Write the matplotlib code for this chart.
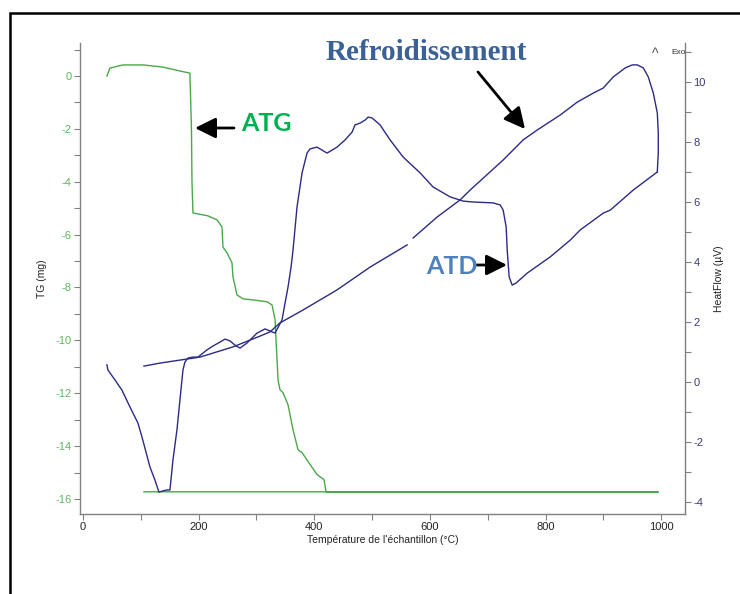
import numpy as np
import matplotlib
matplotlib.use("Agg")
import matplotlib.pyplot as plt
from matplotlib.patches import Rectangle, FancyArrowPatch
from matplotlib.ticker import MultipleLocator

# ---- data ----
tg_temp = [41.5, 46.7, 69, 104, 138, 168, 185, 187.7, 188.6, 190.3, 216.3, 231.8, 240.5,
           242.2, 249.1, 257.8, 259.5, 266.4, 276.8, 294.1, 318.3, 327, 332.2, 333.9,
           337.4, 340.8, 346, 354.7, 363.3, 372, 378.9, 404.8, 416.9, 420.4, 994.8, 105.5]
tg_mass = [0.0, 0.30, 0.42, 0.42, 0.34, 0.19, 0.11, -2.0, -4.0, -5.18, -5.29, -5.44, -5.71,
           -6.47, -6.69, -7.07, -7.60, -8.28, -8.43, -8.47, -8.54, -8.66, -9.22, -9.98,
           -11.49, -11.87, -11.98, -12.44, -13.38, -14.14, -14.25, -15.08, -15.27, -15.73,
           -15.73, -15.73]

heat_temp = [41.5, 43.3, 55.4, 67.5, 81.3, 95.2, 102.1, 115.9, 124.6, 131.5, 138.4, 145.3,
             150.5, 155.7, 162.6, 167.8, 173.0, 176.5, 181.7, 190.3, 199, 214.5, 224.9, 237,
             245.7, 254.3, 263, 271.6, 283.7, 301, 314.9, 323.5, 332.2, 344.3, 349.5, 354.7,
             359.9, 363.3, 370.2, 378.9, 387.5, 392.7, 404.8, 413.5, 422.1, 439.4, 453.3,
             465.4, 470.6, 479.2, 487.9, 493.1, 500, 513.8, 531.1, 553.6, 583, 605.5, 635,
             657.4, 674.7, 709.3, 721.5, 726.6, 731.8, 733.6, 737, 742.2, 749, 768.2, 808,
             842.6, 859.9, 899.7, 911.8, 951.6, 993.1]
heat_flow = [0.57, 0.40, 0.07, -0.27, -0.83, -1.37, -1.83, -2.83, -3.27, -3.67, -3.63, -3.60,
             -3.60, -2.60, -1.60, -0.60, 0.40, 0.67, 0.80, 0.83, 0.83, 1.07, 1.20, 1.33,
             1.43, 1.37, 1.23, 1.13, 1.30, 1.63, 1.77, 1.70, 1.63, 2.07, 2.63, 3.17,
             3.83, 4.40, 5.83, 6.97, 7.63, 7.77, 7.83, 7.73, 7.63, 7.83, 8.07,
             8.33, 8.57, 8.63, 8.73, 8.83, 8.80, 8.57, 8.07, 7.50, 6.97, 6.50, 6.17,
             6.03, 6.0, 5.97, 5.90, 5.73, 5.17, 4.40, 3.50, 3.23, 3.30, 3.63, 4.17,
             4.73, 5.07, 5.63, 5.73, 6.40, 7.0]

cool_temp = [993.1, 994.8, 994.8, 993.1, 986.2, 977.5, 968.9, 958.5, 949.8, 937.7, 917, 899.7,
             882.4, 854.7, 825.3, 785.5, 761.2, 726.6, 669.6, 652.2, 612.5, 570.9, np.nan,
             560.6, 496.5, 439.4, 380.6, 340.8, 323.5, 306.2, 259.5, 202.4, 167.8, 133.2, 105.5]
cool_flow = [7.0, 7.63, 8.30, 8.97, 9.63, 10.17, 10.47, 10.57, 10.57, 10.47, 10.17, 9.80,
             9.63, 9.33, 8.90, 8.40, 8.07, 7.40, 6.40, 6.07, 5.50, 4.80, np.nan,
             4.57, 3.83, 3.07, 2.40, 1.97, 1.67, 1.53, 1.17, 0.83, 0.73, 0.63, 0.53]

x_ticks = [0, 200, 400, 600, 800, 1000]
tg_ticks = [0, -2, -4, -6, -8, -10, -12, -14, -16]
hf_ticks = [-4, -2, 0, 2, 4, 6, 8, 10]

# ---- style ----
W, H = 740, 594
GREEN = "#4aa84a"
GREEN_LBL = "#5cb85c"
NAVY = "#2b2b86"
NAVY_LBL = "#3b3b7a"
GRAY = "#808080"
plt.rcParams["font.family"] = ["Liberation Sans", "DejaVu Sans"]
plt.rcParams["axes.unicode_minus"] = False

fig = plt.figure(figsize=(W / 100, H / 100), dpi=100)
fig.patch.set_facecolor("white")

L, R, B, T = 80, 685, 514, 43
ax1 = fig.add_axes([L / W, 1 - B / H, (R - L) / W, (B - T) / H])
ax2 = ax1.twinx()

ax1.plot(tg_temp, tg_mass, color=GREEN, lw=1.0, zorder=2)
ax2.plot(heat_temp, heat_flow, color=NAVY, lw=1.0)
ax2.plot(cool_temp, cool_flow, color=NAVY, lw=1.0)

ax1.set_xlim(-5, 1041)
ax1.set_ylim(-16.57, 1.25)
ax2.set_ylim(-4.4, 11.3)

ax1.set_xticks(x_ticks)
ax1.xaxis.set_minor_locator(MultipleLocator(100))
ax1.set_yticks(tg_ticks)
ax1.yaxis.set_minor_locator(MultipleLocator(1))
ax2.set_yticks(hf_ticks)
ax2.yaxis.set_minor_locator(MultipleLocator(1))

for ax in (ax1, ax2):
    ax.spines["top"].set_visible(False)
    for s in ax.spines.values():
        s.set_color(GRAY)
        s.set_linewidth(1.0)
ax1.spines["right"].set_visible(False)
ax2.spines["left"].set_visible(False)
ax2.spines["bottom"].set_visible(False)

ax1.tick_params(axis="x", which="both", direction="out", length=4, width=0.8,
                color=GRAY, labelsize=8, labelcolor="#222222", pad=2)
ax1.tick_params(axis="y", which="both", direction="out", length=4, width=0.8,
                color=GRAY, labelsize=8, labelcolor=GREEN_LBL, pad=2)
ax2.tick_params(axis="y", which="both", direction="out", length=4, width=0.8,
                color=GRAY, labelsize=8, labelcolor=NAVY_LBL, pad=2)

ax1.set_xlabel("Température de l'échantillon (°C)", fontsize=7.5, color="#222222")
ax1.set_ylabel("TG (mg)", fontsize=7.5, color="#222222")
ax2.set_ylabel("HeatFlow (µV)", fontsize=7.5, color="#222222")
ax1.xaxis.set_label_coords(0.5, -0.045)
ax1.yaxis.set_label_coords(-0.055, 0.5)
ax2.yaxis.set_label_coords(1.048, 0.5)

def fp(px, py):
    return (px / W, 1 - py / H)

# Exo marker
fig.text(*fp(655, 54), "^", fontsize=10, color="#555555", ha="center", va="center")
fig.text(*fp(671, 52), "Exo", fontsize=6, color="#333333", ha="left", va="center")

# annotations
fig.text(*fp(426, 52), "Refroidissement", fontsize=21, fontweight="bold",
         family=["Liberation Serif", "DejaVu Serif"], color="#3a6096",
         ha="center", va="center")
fig.text(*fp(266, 124), "ATG", fontsize=18, fontweight="bold", family=["Lato", "DejaVu Sans"],
         color="#00b050", ha="center", va="center")
fig.text(*fp(452, 267), "ATD", fontsize=18, fontweight="bold", family=["Lato", "DejaVu Sans"],
         color="#4f81bd", ha="center", va="center")

arrow_kw = dict(arrowstyle="-|>,head_length=0.9,head_width=0.45", color="black", lw=2.0,
                shrinkA=0, shrinkB=0)
fig.add_artist(FancyArrowPatch(fp(234, 128), fp(195, 128),
               transform=fig.transFigure, mutation_scale=14, **arrow_kw))
fig.add_artist(FancyArrowPatch(fp(478, 72), fp(525, 129),
               transform=fig.transFigure, mutation_scale=14, **arrow_kw))
fig.add_artist(FancyArrowPatch(fp(477, 265), fp(507, 265),
               transform=fig.transFigure, mutation_scale=14, **arrow_kw))

# outer frame
fig.add_artist(Rectangle((9.5 / W, -0.05), 1.0, 1 - 13 / H + 0.05, transform=fig.transFigure,
                         fill=False, edgecolor="black", lw=1.8, clip_on=False))

fig.savefig("out.png", dpi=100)
